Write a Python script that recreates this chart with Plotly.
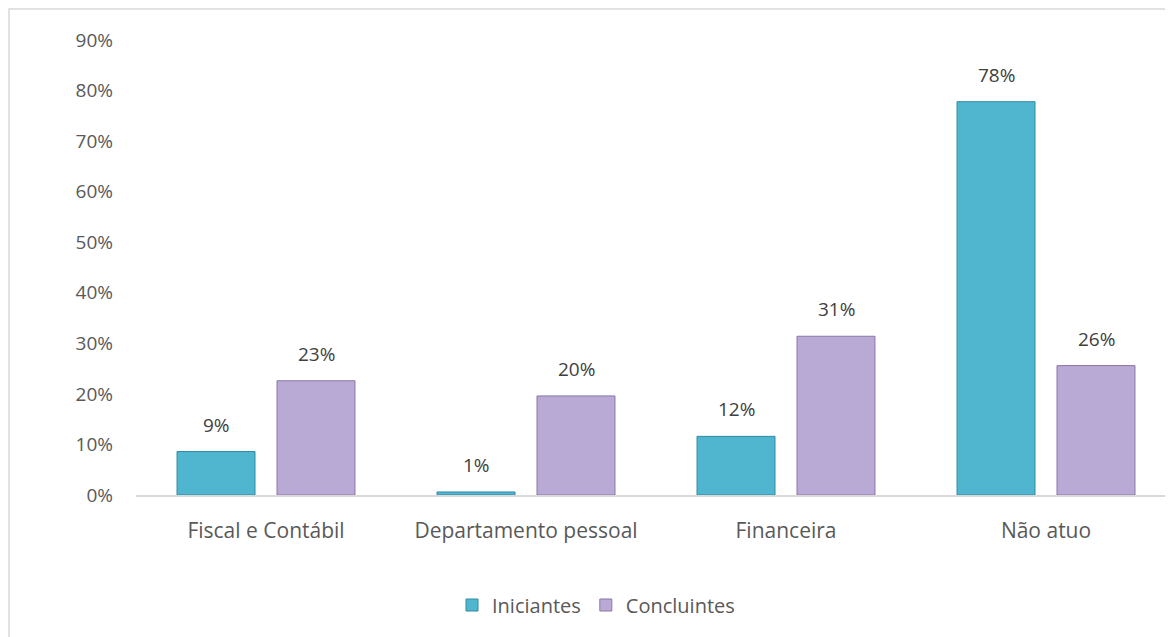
import plotly.graph_objects as go

categories = ["Fiscal e Contábil", "Departamento pessoal", "Financeira", "Não atuo"]
iniciantes = [8.6, 0.6, 11.6, 77.8]
concluintes = [22.6, 19.6, 31.4, 25.6]
series_names = ["Iniciantes", "Concluintes"]
y_ticks = [0, 10, 20, 30, 40, 50, 60, 70, 80, 90]
y_tick_labels = [f"{v}%" for v in y_ticks]

colors = ["#50b6d0", "#b9a9d5"]
edge_colors = ["#2f8ba3", "#8a78a8"]
FONT = "Open Sans, Noto Sans, sans-serif"

fig = go.Figure()
for name, vals, c, ec in zip(series_names, [iniciantes, concluintes], colors, edge_colors):
    fig.add_trace(go.Bar(
        x=categories, y=vals, name=name,
        marker=dict(color=c, line=dict(color=ec, width=1)),
        hoverinfo="x+y+name",
    ))

annotations = []
for vals, shift in zip([iniciantes, concluintes], [-50, 50]):
    for cat, v in zip(categories, vals):
        annotations.append(dict(
            x=cat, y=v, xref="x", yref="y", text=f"{v:.0f}%",
            showarrow=False, xshift=shift, yshift=27, yanchor="middle",
            font=dict(family=FONT, size=19, color="#404040"),
        ))

# page is offset by 8px body margin
OFF = 8
W, H = 1165, 629
L, T = 136 - OFF, 40 - OFF
B = H - (495 - OFF)
pw = W - L
ph = H - T - B

fig.update_layout(
    width=W, height=H,
    margin=dict(l=L, r=0, t=T, b=B, pad=0),
    paper_bgcolor="white", plot_bgcolor="white",
    barmode="group", bargap=0.231, bargroupgap=0.22,
    font=dict(family=FONT, size=19, color="#595959"),
    annotations=annotations,
    showlegend=True,
    legend=dict(orientation="h", x=(596 - 136) / pw, y=(495 - 605) / ph,
                xanchor="center", yanchor="middle",
                font=dict(family=FONT, size=20, color="#595959"),
                itemwidth=30, traceorder="normal"),
    shapes=[dict(type="rect", xref="paper", yref="paper",
                 x0=(9 - 136) / pw, x1=(1190 - 136) / pw,
                 y0=(495 - 660) / ph, y1=(495 - 9) / ph,
                 line=dict(color="#d9d9d9", width=1.5), layer="below")],
)
fig.update_xaxes(
    range=[-0.5, -0.5 + pw / 260.0],
    showline=True, linecolor="#d9d9d9", linewidth=2,
    showgrid=False, ticks="", ticklabelstandoff=16,
    tickfont=dict(family=FONT, size=21, color="#595959"),
)
fig.update_yaxes(
    range=[0, 90], tickvals=y_ticks, ticktext=y_tick_labels,
    showline=False, showgrid=False, zeroline=False, ticks="",
    ticklabelstandoff=22,
    tickfont=dict(family=FONT, size=19, color="#595959"),
)
fig.write_html("out.html")
